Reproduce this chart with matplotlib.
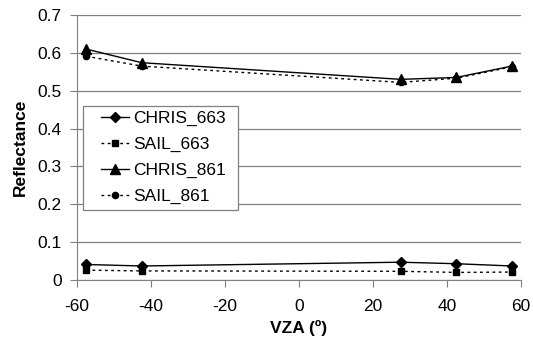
import matplotlib
matplotlib.use("Agg")
import matplotlib.pyplot as plt
from matplotlib.patches import Rectangle

plt.rcParams['font.family'] = ['Liberation Sans', 'DejaVu Sans']
plt.rcParams['axes.unicode_minus'] = False

vza = [-57.5, -42.5, 27.5, 42.5, 57.5]
chris_663 = [0.041, 0.037, 0.047, 0.043, 0.037]
sail_663 = [0.026, 0.024, 0.023, 0.020, 0.021]
chris_861 = [0.610, 0.574, 0.530, 0.535, 0.565]
sail_861 = [0.591, 0.565, 0.522, 0.533, 0.563]

W, H = 533, 337
fig = plt.figure(figsize=(W / 100, H / 100), dpi=100)
ax = fig.add_axes([77 / W, 1 - 280 / H, (521 - 77) / W, (280 - 15) / H])

fs = 12.5
dot = (0, (2, 2.5))
ax.plot(vza, chris_663, color='black', lw=1, marker='D', ms=5, label='CHRIS_663')
ax.plot(vza, sail_663, color='black', lw=1, ls=dot, marker='s', ms=5, label='SAIL_663')
ax.plot(vza, chris_861, color='black', lw=1, marker='^', ms=7, label='CHRIS_861')
ax.plot(vza, sail_861, color='black', lw=1, ls=dot, marker='o', ms=4.5, label='SAIL_861')

ax.set_xlim(-60, 60)
ax.set_ylim(0, 0.7)
ax.set_xticks(range(-60, 61, 20))
ax.set_yticks([i / 10 for i in range(8)])
ax.set_yticklabels(['0'] + [f'{i/10:.1f}' for i in range(1, 8)])
ax.yaxis.grid(True, color='#808080', lw=0.9)
ax.set_axisbelow(True)
for s in ['top', 'right']:
    ax.spines[s].set_visible(False)
ax.spines['left'].set_color('#808080')
ax.spines['bottom'].set_color('#808080')
ax.tick_params(direction='out', length=5, color='#808080', labelsize=fs)
ax.tick_params(axis='x', pad=9)
ax.tick_params(axis='y', pad=6)

ax.set_xlabel('VZA (º)', fontsize=fs, fontweight='bold', labelpad=4)
ax.set_ylabel('Reflectance', fontsize=fs, fontweight='bold', labelpad=7)

# legend box
box = Rectangle(((83 - 77) / 444, (280 - 210) / 265), 155 / 444, 104 / 265,
                transform=ax.transAxes, facecolor='white', edgecolor='#808080',
                lw=0.9, zorder=5, clip_on=False)
ax.add_patch(box)
leg = ax.legend(loc='upper left', bbox_to_anchor=((101 - 77) / 444, (280 - 111) / 265),
                fontsize=fs, frameon=False, borderpad=0, borderaxespad=0,
                handlelength=1.6, labelspacing=0.62, handletextpad=0.25)
leg.set_zorder(6)

fig.savefig('out.png', dpi=100)
